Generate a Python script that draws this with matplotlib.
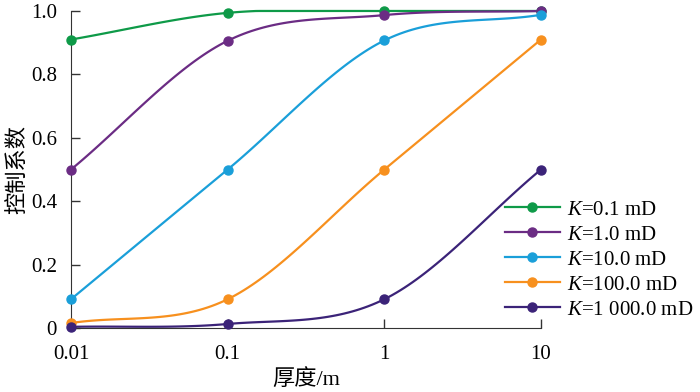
import numpy as np
import matplotlib
matplotlib.use("Agg")
import matplotlib.pyplot as plt

plt.rcParams['font.family'] = ['Liberation Serif', 'Noto Sans CJK SC']
plt.rcParams['mathtext.fontset'] = 'custom'
plt.rcParams['mathtext.it'] = 'Liberation Serif:italic'
plt.rcParams['mathtext.rm'] = 'Liberation Serif'

# ----------------------------
# Data
# ----------------------------
thickness = [0.01, 0.1, 1, 10]
k_labels = ["0.1", "1.0", "10.0", "100.0", "1 000.0"]
k01 = [0.91, 0.994, 1.0, 1.0]
k1 = [0.50, 0.906, 0.987, 1.0]
k10 = [0.091, 0.50, 0.907, 0.988]
k100 = [0.016, 0.091, 0.50, 0.91]
k1000 = [0.004, 0.013, 0.091, 0.50]
colors = ["#0e9a48", "#6b2c84", "#1a9fd9", "#f7901e", "#3b2378"]


def smooth(xs, ys, n=40):
    # Catmull-Rom through the points in log-x space (drawing only)
    lx = np.log10(xs)
    ys = np.asarray(ys, float)
    px = np.concatenate([[2 * lx[0] - lx[1]], lx, [2 * lx[-1] - lx[-2]]])
    py = np.concatenate([[2 * ys[0] - ys[1]], ys, [2 * ys[-1] - ys[-2]]])
    ox, oy = [], []
    for i in range(1, len(px) - 2):
        t = np.linspace(0, 1, n)
        for arr, out in ((px, ox), (py, oy)):
            p0, p1, p2, p3 = arr[i - 1], arr[i], arr[i + 1], arr[i + 2]
            out.extend(0.5 * (2 * p1 + (-p0 + p2) * t
                              + (2 * p0 - 5 * p1 + 4 * p2 - p3) * t ** 2
                              + (-p0 + 3 * p1 - 3 * p2 + p3) * t ** 3))
    oy = np.clip(oy, 0, 1.0)
    return 10 ** np.array(ox), oy


fig = plt.figure(figsize=(7, 3.92), dpi=100)
ax = fig.add_axes([0.1014, 0.163, 0.6714, 0.809])

series = [k01, k1, k10, k100, k1000]
for vals, lab, c in zip(series, k_labels, colors):
    sx, sy = smooth(thickness, vals)
    ax.plot(sx, sy, color=c, lw=1.6, zorder=2, clip_on=False)
    ax.plot(thickness, vals, "o", color=c, ms=6.5, zorder=3, clip_on=False)
    ax.plot([], [], "-o", color=c, lw=1.6, ms=6.5, label="$K$=" + lab + " mD")

ax.set_xscale("log")
ax.set_xlim(0.01, 10)
ax.set_ylim(0, 1.0)
ax.set_xticks(thickness)
ax.set_xticklabels(["0.01", "0.1", "1", "10"])
ax.minorticks_off()
ax.set_yticks([0, 0.2, 0.4, 0.6, 0.8, 1.0])
ax.set_yticklabels(["0", "0.2", "0.4", "0.6", "0.8", "1.0"])
ax.tick_params(direction="in", length=6.5, labelsize=15, width=1, color="#333333")
ax.tick_params(axis="x", pad=12)
ax.tick_params(axis="y", pad=10)
ax.spines["top"].set_visible(False)
ax.spines["right"].set_visible(False)
for s in ("left", "bottom"):
    ax.spines[s].set_color("#333333")

ax.set_xlabel("厚度/m", fontsize=16, labelpad=4)
ax.set_ylabel("控制系数", fontsize=16, family=["Noto Sans CJK SC"], labelpad=2)

fig.legend(loc="upper left", bbox_to_anchor=(0.722, 0.49), frameon=False,
           fontsize=15, handlelength=2.6, handletextpad=0.38, labelspacing=0.26,
           borderpad=0, borderaxespad=0)

fig.savefig("out.png", dpi=100)
